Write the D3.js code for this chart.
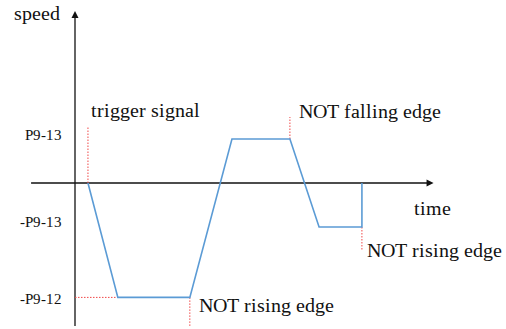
<!DOCTYPE html>
<html>
<head>
<meta charset="utf-8">
<script src="https://cdn.jsdelivr.net/npm/d3@7"></script>
<style>
  @font-face {
    font-family: "ChartSerif";
    src: local("Liberation Serif"), local("LiberationSerif"), local("LiberationSerif-Regular"), local("Times New Roman");
  }
  html, body { margin: 0; padding: 0; background: #fff; }
  svg { display: block; }
</style>
</head>
<body>
<svg id="chart" width="506" height="329"></svg>
<script>
// Speed profile over time (time in arbitrary units, speed in units of P9-13)
const times  = [3.6, 11.9, 31.9, 43.6, 59.7, 67.8, 79.7, 79.7];
const speeds = [0,   -2.6, -2.6, 1,    1,    -1,   -1,   0];

// Y tick labels and their speed levels
const tickLabels = ["P9-13", "-P9-13", "-P9-12"];
const tickValues = [1, -1, -2.6];

// Event markers: time, speed where the marker meets the curve, speed at the marker's far end, label
const markerTimes  = [3.6, 59.7, 79.7, 31.9];
const markerFrom   = [0, 1, -1, -2.6];
const markerTo     = [1.27, 1.5, -1.53, -3.27];
const markerLabels = ["trigger signal", "NOT falling edge", "NOT rising edge", "NOT rising edge"];

const svg = d3.select("#chart");
const x = d3.scaleLinear().domain([0, 100]).range([75, 435]);
const y = d3.scaleLinear().domain([0, 1]).range([183, 139]);

// Axes
svg.append("line").attr("x1", x(-12.2)).attr("x2", x(98.6)).attr("y1", y(0)).attr("y2", y(0))
  .attr("stroke", "#111").attr("stroke-width", 1.3);
svg.append("path").attr("d", `M${x(99.6)},${y(0)} l-7,-3.5 l0,7 z`).attr("fill", "#111");
svg.append("line").attr("x1", x(0)).attr("x2", x(0)).attr("y1", 16).attr("y2", 326)
  .attr("stroke", "#111").attr("stroke-width", 1.3);
svg.append("path").attr("d", `M${x(0)},11 l-3.5,7 l7,0 z`).attr("fill", "#111");

// All text lives in one group that carries the serif face
const labels = svg.append("g").style("font-family", '"ChartSerif"');
const txt = (sel) => sel.style("font-family", '"ChartSerif"').attr("fill", "#111");

txt(labels.append("text")).attr("x", 14).attr("y", 20).attr("font-size", 20).text("speed");
txt(labels.append("text")).attr("x", 414).attr("y", 215).attr("font-size", 20).text("time");

// Y tick labels
const tickBase = [140, 227, 304];
txt(labels.selectAll(".ytick").data(tickValues).enter().append("text"))
  .attr("class", "ytick")
  .attr("x", 62).attr("y", (d, i) => tickBase[i])
  .attr("text-anchor", "end").attr("font-size", 14.5)
  .text((d, i) => tickLabels[i]);

// Dotted red markers
const red = "#f04848";
svg.selectAll(".mark").data(markerTimes).enter().append("line")
  .attr("x1", d => x(d)).attr("x2", d => x(d))
  .attr("y1", (d, i) => y(markerFrom[i])).attr("y2", (d, i) => y(markerTo[i]))
  .attr("stroke", red).attr("stroke-width", 1).attr("stroke-dasharray", "1.5,1.5");
svg.append("line").attr("x1", x(0)).attr("x2", x(11.9)).attr("y1", y(-2.6)).attr("y2", y(-2.6))
  .attr("stroke", red).attr("stroke-width", 1).attr("stroke-dasharray", "1.5,1.5");

// Marker labels
const labelPos = [[91, 117], [299, 118], [367, 257], [199, 312]];
txt(labels.selectAll(".mlab").data(markerLabels).enter().append("text"))
  .attr("x", (d, i) => labelPos[i][0]).attr("y", (d, i) => labelPos[i][1])
  .attr("font-size", 20).text(d => d);

// Speed curve
const line = d3.line().x(d => x(d[0])).y(d => y(d[1]));
svg.append("path").datum(times.map((t, i) => [t, speeds[i]]))
  .attr("d", line).attr("fill", "none").attr("stroke", "#5b9bd5").attr("stroke-width", 1.6);
</script>
</body>
</html>
